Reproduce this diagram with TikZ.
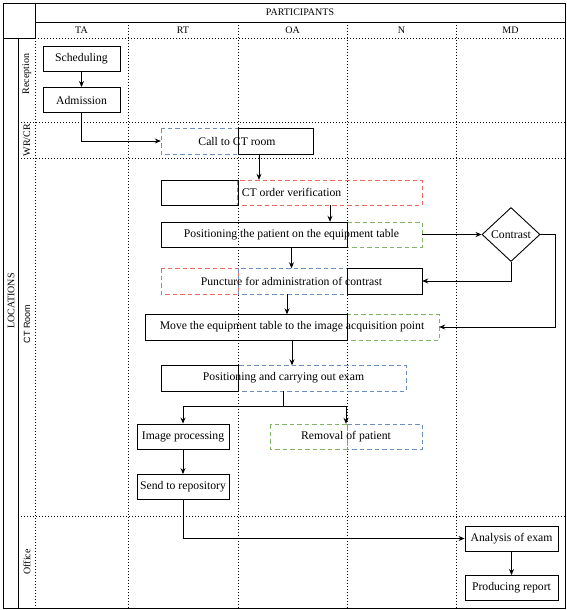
\documentclass[tikz,border=0pt]{standalone}
\usepackage{fontspec}
\setmainfont{Liberation Serif}
\newfontfamily\lanesans{Liberation Sans}
\usetikzlibrary{arrows.meta,shapes.geometric}
\definecolor{partblue}{RGB}{108,142,191}
\definecolor{partred}{RGB}{234,107,102}
\definecolor{partgreen}{RGB}{130,179,102}
\tikzset{
  frame/.style={line width=0.9pt},
  gridline/.style={line width=0.7pt, dash pattern=on 1pt off 2pt},
  seg/.style={line width=0.9pt},
  dseg/.style={line width=1pt, dash pattern=on 4.5pt off 3pt},
  task/.style={draw, line width=0.9pt, font=\fontsize{11.7}{14}\selectfont,
    minimum height=25pt, inner sep=0pt},
  wide/.style={font=\fontsize{11.7}{14}\selectfont, minimum height=25pt, inner sep=0pt},
  hdr/.style={font=\fontsize{10}{12}\selectfont, inner sep=0pt},
  flow/.style={line width=0.9pt, -{Stealth[length=6pt,width=5pt]}},
}
\begin{document}
\begin{tikzpicture}[x=1pt, y=-1pt]
  \useasboundingbox (0,0) rectangle (567,610);
  % grid of the pool
  \draw[frame] (3,3) rectangle (565,608);
  \draw[frame] (35,22) -- (565,22);
  \draw[frame] (35,3) -- (35,38);
  \draw[frame] (3,38) -- (35,38);
  \draw[frame] (18,38) -- (18,608);
  \draw[gridline] (35,38) -- (565,38);
  \draw[gridline] (35,38) -- (35,608);
  \foreach \x in {128,238,347,456}
    \draw[gridline] (\x,22) -- (\x,608);
  \foreach \y in {122,158,516}
    \draw[gridline] (18,\y) -- (565,\y);

  \node[hdr] (participants) at (300,12) {PARTICIPANTS};
  \foreach \name/\x in {TA/81.5, RT/183, OA/292.5, N/401.5, MD/510.5}
    \node[hdr] (col\name) at (\x,30) {\name};
  \node[hdr, rotate=90] (locations) at (11,301) {LOCATIONS};
  \node[hdr, rotate=90] (laneRec) at (27,74) {Reception};
  \node[hdr, rotate=90] (laneWr) at (27,140) {WR/CR};
  \node[hdr, rotate=90, font=\lanesans\fontsize{9}{11}\selectfont] (laneCt) at (27,324) {CT Room};
  \node[hdr, rotate=90] (laneOff) at (27,562) {Office};

  % shared activities: one coloured part per participant
  \foreach \xa/\ya/\xb/\yb/\col in {
      161/128/238/154/partblue,
      237/180/422/205/partred,
      347/222/422/247/partgreen,
      161/268/238/294/partred,
      238/268/347/294/partblue,
      347/314/439/340/partgreen,
      238/365/406/391/partblue,
      270/424/347/449/partgreen,
      347/424/422/449/partblue}
    \draw[dseg, draw=\col] (\xa,\ya) rectangle (\xb,\yb);
  \foreach \xa/\ya/\xb/\yb in {
      238/128/313/154,
      161/180/238/205,
      161/222/347/247,
      347/268/422/294,
      145/314/347/340,
      161/365/238/391}
    \draw[seg] (\xa,\ya) rectangle (\xb,\yb);

  % activities
  \node[task, minimum width=77pt] (sched) at (81.5,58.5) {Scheduling};
  \node[task, minimum width=77pt] (adm) at (81.5,100) {Admission};
  \node[wide, minimum width=152pt] (call) at (237,141) {Call to CT room};
  \node[wide, minimum width=261pt] (verify) at (291.5,192.5) {CT order verification};
  \node[wide, minimum width=261pt] (ptable) at (291.5,234.5) {Positioning the patient on the equipment table};
  \node[draw, diamond, line width=0.9pt, aspect=1.07, minimum width=58pt, minimum height=54pt,
    inner sep=0pt, font=\fontsize{11.7}{14}\selectfont] (contrast) at (511,234.5) {Contrast};
  \node[wide, minimum width=261pt] (punct) at (291.5,281) {Puncture for administration of contrast};
  \node[wide, minimum width=294pt] (move) at (292,327) {Move the equipment table to the image acquisition point};
  \node[wide, minimum width=245pt] (exam) at (283.5,378) {Positioning and carrying out exam};
  \node[task, minimum width=92pt] (imgproc) at (183,436.5) {Image processing};
  \node[wide, minimum width=152pt] (removal) at (346,436.5) {Removal of patient};
  \node[task, minimum width=92pt] (send) at (183,487) {Send to repository};
  \node[task, minimum width=93pt] (analysis) at (511.5,538.5) {Analysis of exam};
  \node[task, minimum width=93pt] (report) at (511.5,588) {Producing report};

  % flow
  \draw[flow] (sched) -- (adm);
  \draw[flow] (adm.south) |- (call.west);
  \draw[flow] ([xshift=22pt]call.south) -- ([xshift=22pt]call.south |- verify.north);
  \draw[flow] ([xshift=38.5pt]verify.south) -- ([xshift=38.5pt]verify.south |- ptable.north);
  \draw[flow] (ptable.east) -- (contrast.west);
  \draw[flow] (ptable.south) -- (punct.north);
  \draw[flow] (contrast.south) |- (punct.east);
  \draw[flow] (contrast.east) -- ++(15,0) |- (move.east);
  \draw[flow] ([xshift=-4.5pt]punct.south) -- ([xshift=-4.5pt]punct.south |- move.north);
  \draw[flow] (move.south) -- (move.south |- exam.north);
  \draw[line width=0.9pt] (exam.south) -- ++(0,16) coordinate (split);
  \draw[flow] (split) -| (imgproc.north);
  \draw[flow] (split) -| (removal.north);
  \draw[flow] (imgproc) -- (send);
  \draw[flow] (send.south) |- (analysis.west);
  \draw[flow] (analysis) -- (report);
\end{tikzpicture}
\end{document}
